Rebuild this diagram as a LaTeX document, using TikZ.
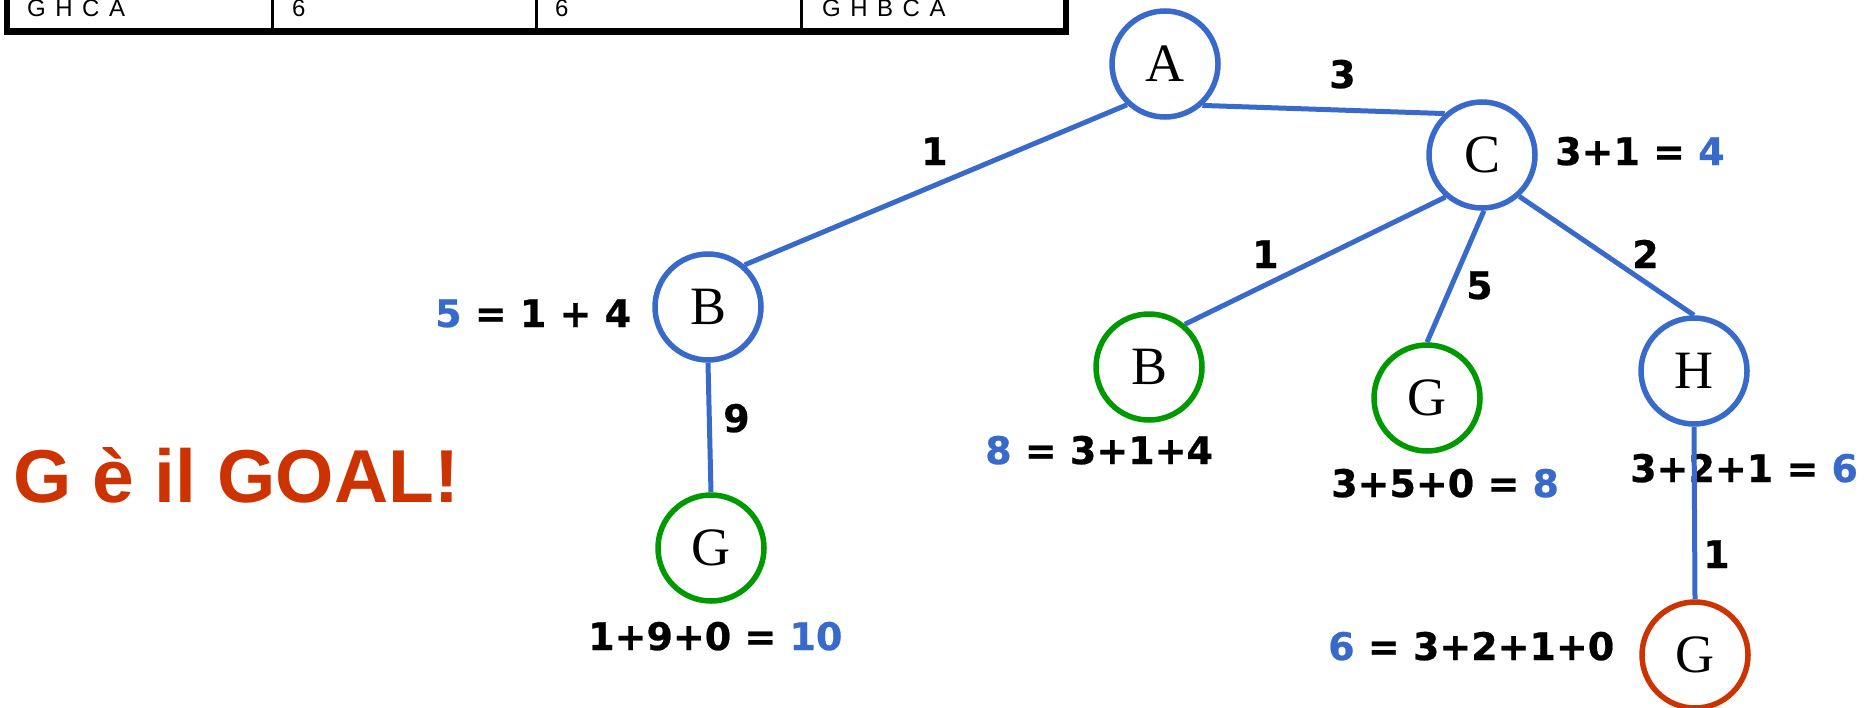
\documentclass[tikz,border=0pt]{standalone}
\usepackage{fontspec}
\setmainfont{Liberation Serif}
\newfontfamily\lblfont{DejaVu Sans}[BoldFeatures={FakeBold=0.6}]
\newfontfamily\arialfont{Liberation Sans}
\definecolor{nblue}{RGB}{56,106,204}
\definecolor{ngreen}{RGB}{0,153,0}
\definecolor{nred}{RGB}{204,51,0}
\newcommand{\tsp}{\hspace{9.5pt}}
\tikzset{
  tnode/.style={circle, draw, line width=5.5pt, minimum size=106pt, inner sep=0pt, fill=white,
    font=\fontsize{54}{60}\selectfont},
  bluec/.style={tnode, draw=nblue},
  greenc/.style={tnode, draw=ngreen},
  redc/.style={tnode, draw=nred},
  lbl/.style={inner sep=0pt, anchor=base west, font=\lblfont\bfseries\fontsize{38}{44}\selectfont},
  tbltxt/.style={inner sep=0pt, anchor=base west, font=\arialfont\fontsize{24}{28}\selectfont},
  edge/.style={draw=nblue, line width=5pt},
}
\begin{document}
\begin{tikzpicture}[x=1pt, y=-1pt]
\useasboundingbox (0,0) rectangle (1876,707);
\clip (0,0) rectangle (1876,707);
% table (bottom row)
\draw[line width=6.5pt] (7,-30) -- (7,31.5) -- (1066,31.5) -- (1066,-30);
\draw[line width=3pt] (272.5,-30) -- (272.5,29);
\draw[line width=3pt] (536,-30) -- (536,29);
\draw[line width=3pt] (801.5,-30) -- (801.5,29);
\node[tbltxt] (t1) at (27,16) {G\tsp H\tsp C\tsp A};
\node[tbltxt] (t2) at (292,16) {6};
\node[tbltxt] (t3) at (555,16) {6};
\node[tbltxt] (t4) at (822,16) {G\tsp H\tsp B\tsp C\tsp A};
% goal text
\node[inner sep=0pt, anchor=base west, text=nred, font=\arialfont\bfseries\fontsize{75}{80}\selectfont] (goal) at (13,502) {G è il GOAL!};
% labels
\node[lbl] (lAC) at (1329,88) {3};
\node[lbl] (lAB) at (921,165) {1};
\node[lbl] (fC) at (1555,165) {3+1 = \textcolor{nblue}{4}};
\node[lbl] (fB1) at (435,327) {\textcolor{nblue}{5} = 1 + 4};
\node[lbl] (lBG) at (723,432) {9};
\node[lbl] (lCB) at (1252,268) {1};
\node[lbl] (lCG) at (1466,299) {5};
\node[lbl] (lCH) at (1632,268) {2};
\node[lbl] (fB2) at (985,464) {\textcolor{nblue}{8} = 3+1+4};
\node[lbl] (fG2) at (1331,497) {3+5+0 = \textcolor{nblue}{8}};
\node[lbl] (fH) at (1630,482) {3+2+1 = \textcolor{nblue}{6}};
\node[lbl] (lHG) at (1703,568) {1};
\node[lbl] (fG3) at (1328,660) {\textcolor{nblue}{6} = 3+2+1+0};
\node[lbl] (fG1) at (588,650) {1+9+0 = \textcolor{nblue}{10}};
% tree nodes
\node[bluec] (A) at (1165,64) {A};
\node[bluec] (C) at (1482,155) {C};
\node[bluec] (B1) at (708,307) {B};
\node[greenc] (G1) at (711,548) {G};
\node[greenc] (B2) at (1149,367) {B};
\node[greenc] (G2) at (1427,398) {G};
\node[bluec] (H) at (1694,371) {H};
\node[redc] (G3) at (1695,655) {G};
% edges
\draw[edge] (A.-48) -- (C.132);
\draw[edge] (A.227) -- (B1.49);
\draw[edge] (B1.south) -- (G1.north);
\draw[edge] (C.-131) -- (B2.50);
\draw[edge] (C.-88) -- (G2.north);
\draw[edge] (C.-48) -- (H.north);
\draw[edge] (H.south) -- (G3.north);
\end{tikzpicture}
\end{document}
